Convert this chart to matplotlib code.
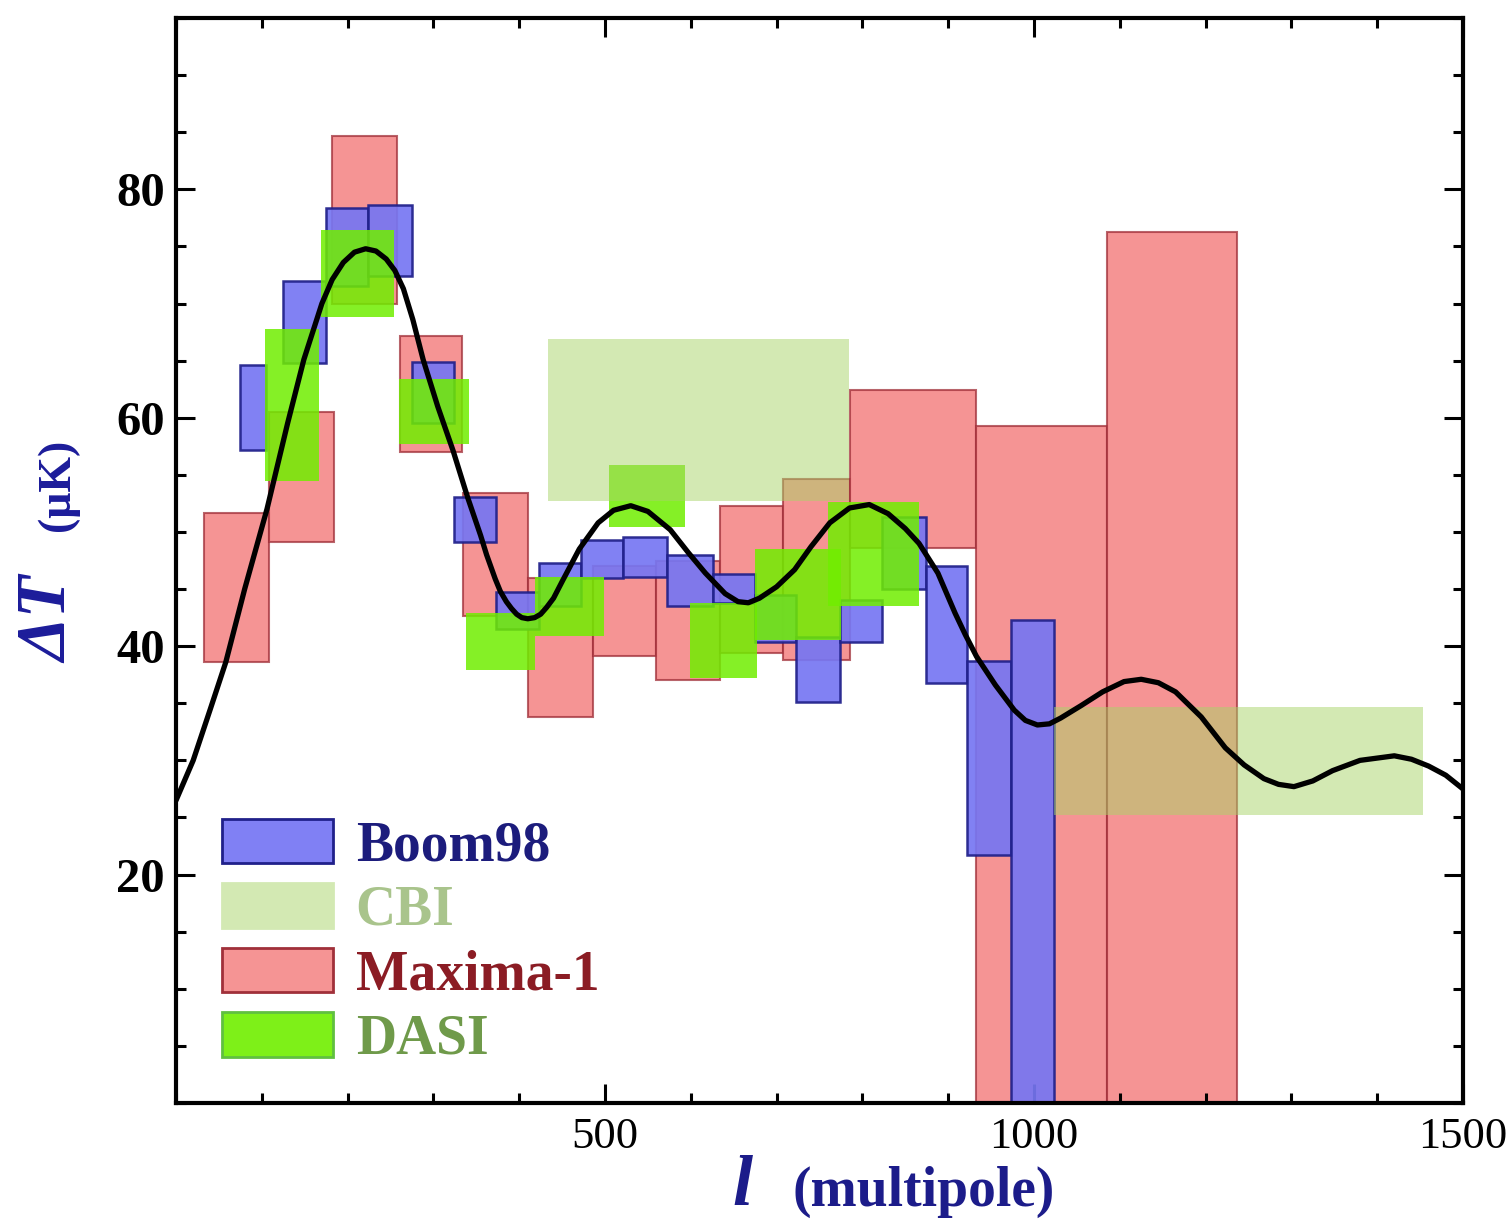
import matplotlib
matplotlib.use("Agg")
import matplotlib.pyplot as plt
from matplotlib.patches import Patch
from matplotlib.ticker import MultipleLocator

plt.rcParams['font.family'] = ['Liberation Serif', 'DejaVu Serif']

# band powers: multipole bin edges and Delta T range (muK)
boom_l_lo = [75, 125, 175, 224, 275, 324, 373, 423, 472, 521, 572, 626, 675, 723, 774, 823, 874, 922, 973]
boom_l_hi = [105, 175, 224, 275, 324, 373, 423, 472, 521, 572, 626, 675, 723, 774, 823, 874, 922, 973, 1023]
boom_t_lo = [57.2, 64.8, 71.5, 72.4, 59.5, 49.1, 41.5, 43.5, 46.0, 46.1, 43.5, 43.8, 40.4, 35.1, 40.4, 45.0, 36.8, 21.7, -3]
boom_t_hi = [64.6, 72.0, 78.4, 78.6, 64.9, 53.1, 44.7, 47.3, 49.3, 49.6, 48.0, 46.3, 44.5, 40.8, 44.0, 51.3, 47.0, 38.7, 42.3]

max_l_lo = [33, 108, 182, 261, 335, 410, 486, 560, 634, 708, 785, 933, 1085]
max_l_hi = [108, 184, 258, 333, 410, 486, 560, 634, 708, 785, 933, 1085, 1237]
max_t_lo = [38.6, 49.1, 70.0, 57.0, 42.6, 33.8, 39.1, 37.0, 39.4, 38.8, 48.6, -3, -3]
max_t_hi = [51.7, 60.5, 84.7, 67.2, 53.4, 46.0, 47.0, 47.5, 52.3, 54.6, 62.4, 59.3, 76.3]

dasi_l_lo = [104, 169, 260, 338, 418, 505, 599, 675, 760]
dasi_l_hi = [167, 254, 342, 418, 499, 593, 677, 775, 866]
dasi_t_lo = [54.5, 68.8, 57.7, 37.9, 40.9, 50.4, 37.2, 40.5, 43.5]
dasi_t_hi = [67.8, 76.4, 63.4, 42.9, 46.1, 55.9, 43.8, 48.5, 52.6]

cbi_l_lo = [434, 1023]
cbi_l_hi = [784, 1453]
cbi_t_lo = [52.7, 25.2]
cbi_t_hi = [66.9, 34.7]

# model curve
model_l = [0, 20, 40, 58, 80, 106, 130, 149, 170, 182, 195, 208, 221, 233, 245, 255, 265, 276, 288,
           305, 323, 340, 355, 362, 372, 378, 385, 391, 397, 403, 410, 418, 425, 432, 440, 451, 470,
           492, 510, 530, 550, 576, 597, 617, 640, 655, 667, 680, 700, 721, 740, 762, 785, 808, 830,
           850, 866, 888, 908, 920, 933, 955, 977, 990, 1004, 1018, 1031, 1055, 1080, 1105, 1125,
           1145, 1165, 1195, 1223, 1245, 1268, 1285, 1303, 1325, 1348, 1380, 1420, 1440, 1460,
           1480, 1500]
model_t = [26.5, 30.0, 34.5, 38.6, 45.0, 52.0, 59.5, 65.1, 70.0, 72.1, 73.6, 74.5, 74.8, 74.6, 73.9,
           72.9, 71.3, 68.6, 65.1, 61.0, 57.1, 53.0, 49.7, 48.0, 45.9, 44.8, 43.9, 43.3, 42.8, 42.5,
           42.4, 42.5, 42.8, 43.4, 44.2, 45.8, 48.5, 50.8, 51.9, 52.3, 51.8, 50.2, 48.2, 46.4, 44.6,
           43.9, 43.8, 44.2, 45.2, 46.7, 48.7, 50.8, 52.1, 52.4, 51.6, 50.3, 49.0, 46.4, 42.9, 41.0,
           39.1, 36.6, 34.4, 33.5, 33.1, 33.2, 33.7, 34.8, 36.0, 36.9, 37.1, 36.8, 36.0, 33.8, 31.1,
           29.6, 28.4, 27.9, 27.7, 28.2, 29.1, 30.0, 30.4, 30.1, 29.5, 28.7, 27.5]

names = ['Boom98', 'CBI', 'Maxima-1', 'DASI']
text_colors = ['#1c1c7c', '#a9c48c', '#8b1c24', '#6f9a4a']


def draw_boxes(ax, l_lo, l_hi, t_lo, t_hi, face, alpha, edge, lw, z):
    widths = [b - a for a, b in zip(l_lo, l_hi)]
    heights = [b - a for a, b in zip(t_lo, t_hi)]
    ax.bar(l_lo, heights, width=widths, bottom=t_lo, align='edge', color=face, alpha=alpha,
           edgecolor=edge, linewidth=lw, zorder=z)


fig = plt.figure(figsize=(15.11, 12.28), dpi=100)
ax = fig.add_axes([0.1165, 0.1018, 0.8517, 0.8835])

draw_boxes(ax, max_l_lo, max_l_hi, max_t_lo, max_t_hi, '#f27070', 0.75, '#a0303a', 1.5, 1)
draw_boxes(ax, boom_l_lo, boom_l_hi, boom_t_lo, boom_t_hi, '#7676f2', 0.92, '#20208a', 1.8, 2)
draw_boxes(ax, dasi_l_lo, dasi_l_hi, dasi_t_lo, dasi_t_hi, '#70ee00', 0.85, 'none', 0, 3)
draw_boxes(ax, cbi_l_lo, cbi_l_hi, cbi_t_lo, cbi_t_hi, '#a8d468', 0.5, 'none', 0, 4)

ax.plot(model_l, model_t, color='black', linewidth=3.8, zorder=5,
        solid_joinstyle='round', solid_capstyle='round')

ax.set_xlim(0, 1500)
ax.set_ylim(0, 95)
ax.set_xticks([500, 1000, 1500])
ax.xaxis.set_minor_locator(MultipleLocator(100))
ax.set_yticks([20, 40, 60, 80])
ax.yaxis.set_minor_locator(MultipleLocator(5))
ax.tick_params(which='both', direction='in', top=True, right=True, width=2.2)
ax.tick_params(which='major', length=14)
ax.tick_params(which='minor', length=7)
ax.tick_params(axis='x', labelsize=32, pad=10)
ax.tick_params(axis='y', labelsize=35, pad=8)
for lbl in ax.get_yticklabels():
    lbl.set_fontweight('bold')
for sp in ax.spines.values():
    sp.set_linewidth(3)

# axis labels
ax.text(-0.098, 0.445, 'ΔT', transform=ax.transAxes, rotation=90, ha='center', va='center',
        fontsize=50, fontweight='bold', fontstyle='italic', color='#1c1c9a')
ax.text(-0.092, 0.570, '(μK)', transform=ax.transAxes, rotation=90, ha='center', va='center',
        fontsize=33, fontweight='bold', color='#1c1c9a')
ax.text(0.44, -0.078, 'l', transform=ax.transAxes, ha='center', va='center',
        fontsize=52, fontweight='bold', fontstyle='italic', color='#1c1c8a')
ax.text(0.479, -0.082, '(multipole)', transform=ax.transAxes, ha='left', va='center',
        fontsize=40, fontweight='bold', color='#1c1c8a')

handles = [
    Patch(facecolor='#8080f4', edgecolor='#20208a', linewidth=2),
    Patch(facecolor='#d3e9b3', edgecolor='#d3e9b3', linewidth=2),
    Patch(facecolor='#f59494', edgecolor='#a0303a', linewidth=2),
    Patch(facecolor='#7ef018', edgecolor='#60c040', linewidth=2),
]
leg = ax.legend(handles, names, loc='upper left', bbox_to_anchor=(0.036, 0.262), frameon=False,
                prop={'size': 40, 'weight': 'bold'}, handlelength=2.0, handleheight=0.85,
                labelspacing=0.2, handletextpad=0.4, borderpad=0, borderaxespad=0)
for txt, c in zip(leg.get_texts(), text_colors):
    txt.set_color(c)

fig.savefig('out.png', dpi=100)
